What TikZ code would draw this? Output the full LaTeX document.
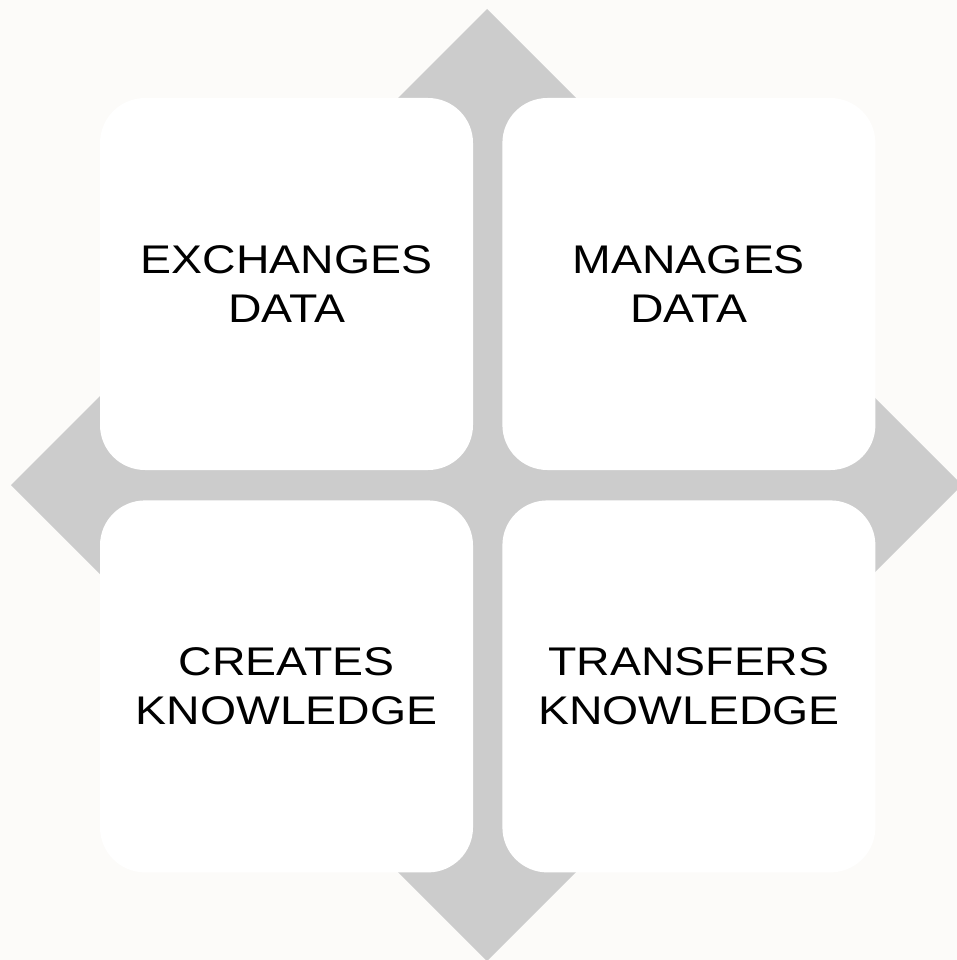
\documentclass[tikz,border=0pt]{standalone}
\usepackage{fontspec}
\newfontfamily\quadfont[FakeStretch=1.16]{Liberation Sans}
\usetikzlibrary{positioning}
\definecolor{crossgray}{RGB}{204,204,204}
\definecolor{paper}{RGB}{252,251,249}
\tikzset{
    quad/.style={fill=white, rounded corners=45pt, minimum width=373pt, minimum height=372pt,
        inner sep=0pt, align=center, font=\quadfont\fontsize{40}{49}\selectfont},
    tip/.style={fill=crossgray}
}

\begin{document}
\begin{tikzpicture}[x=1pt, y=-1pt]
    \fill[paper] (0, 0) rectangle (957, 960);
    \useasboundingbox (0, 0) rectangle (957, 960);
    \fill[crossgray] (398, 98) rectangle (576, 872);
    \fill[crossgray] (100, 396) rectangle (873, 574);
    \fill[tip] (398, 98) -- (487, 9) -- (576, 98) -- cycle;
    \fill[tip] (398, 872) -- (487, 961) -- (576, 872) -- cycle;
    \fill[tip] (100, 396) -- (11, 485) -- (100, 574) -- cycle;
    \fill[tip] (873, 396) -- (962, 485) -- (873, 574) -- cycle;
    \node[quad] (exchanges) at (286.5, 284) {EXCHANGES\\DATA};
    \node[quad, right=29pt of exchanges] (manages) {MANAGES\\DATA};
    \node[quad, below=30pt of exchanges] (creates) {CREATES\\KNOWLEDGE};
    \node[quad, below=30pt of manages] (transfers) {TRANSFERS\\KNOWLEDGE};
\end{tikzpicture}
\end{document}
